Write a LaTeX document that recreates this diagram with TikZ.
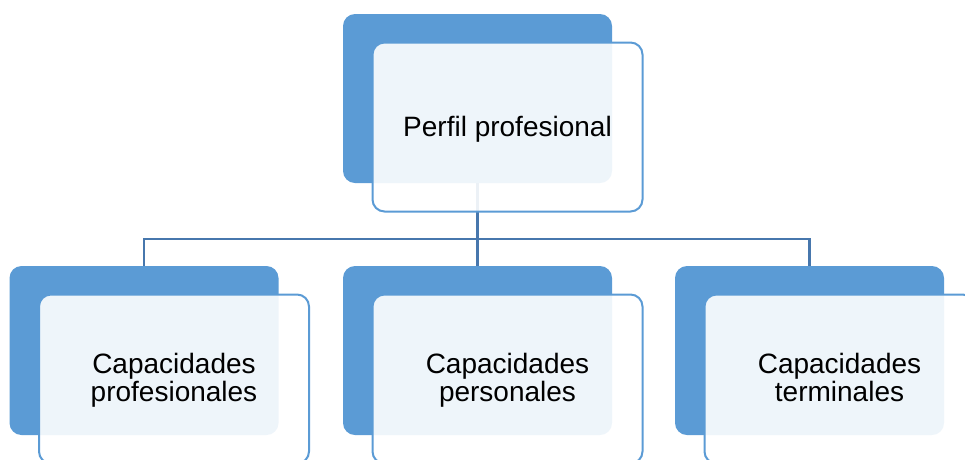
\documentclass[tikz,border=0pt]{standalone}
\usepackage{fontspec}
\setmainfont{Liberation Sans}
\usetikzlibrary{positioning}
\definecolor{boxblue}{HTML}{5B9BD5}
\definecolor{linkblue}{HTML}{4777AD}

\begin{document}
\begin{tikzpicture}[x=1pt, y=-1pt,
  every node/.style={font=\fontsize{28}{28.4}\selectfont, text=black},
  backbox/.style={rectangle, rounded corners=12pt, fill=boxblue, inner sep=0pt,
    minimum width=269pt, minimum height=169pt},
  frontbox/.style={rectangle, rounded corners=12pt, draw=boxblue, line width=2pt,
    fill=white, fill opacity=0.9, text opacity=1, inner sep=0pt, align=center,
    minimum width=270pt, minimum height=169pt, xshift=30pt, yshift=-28.5pt,
    text height=19.4pt, text depth=0pt},
  twoline/.style={text height=45.4pt},
  link/.style={draw=linkblue, line width=2.2pt},
]

\clip (0,0) rectangle (965,459);

% Back boxes
\node[backbox] (perfilbg) at (477.5, 98.5) {};
\node[backbox] (cprofbg) at (144, 350.5) {};
\node[backbox] (cperbg) at (477.5, 350.5) {};
\node[backbox] (cterbg) at (809.5, 350.5) {};

% Connectors
\draw[link] (perfilbg.south) -- ++(0,56) coordinate (split);
\draw[link] (cprofbg.north) |- (split) -| (cterbg.north);
\draw[link] (split) -- (cperbg.north);

% Front boxes
\node[frontbox] (perfil) at (perfilbg) {Perfil profesional};
\node[frontbox, twoline] (cprof) at (cprofbg) {Capacidades\\profesionales};
\node[frontbox, twoline] (cper) at (cperbg) {Capacidades\\personales};
\node[frontbox, twoline] (cter) at (cterbg) {Capacidades\\terminales};

\end{tikzpicture}
\end{document}
